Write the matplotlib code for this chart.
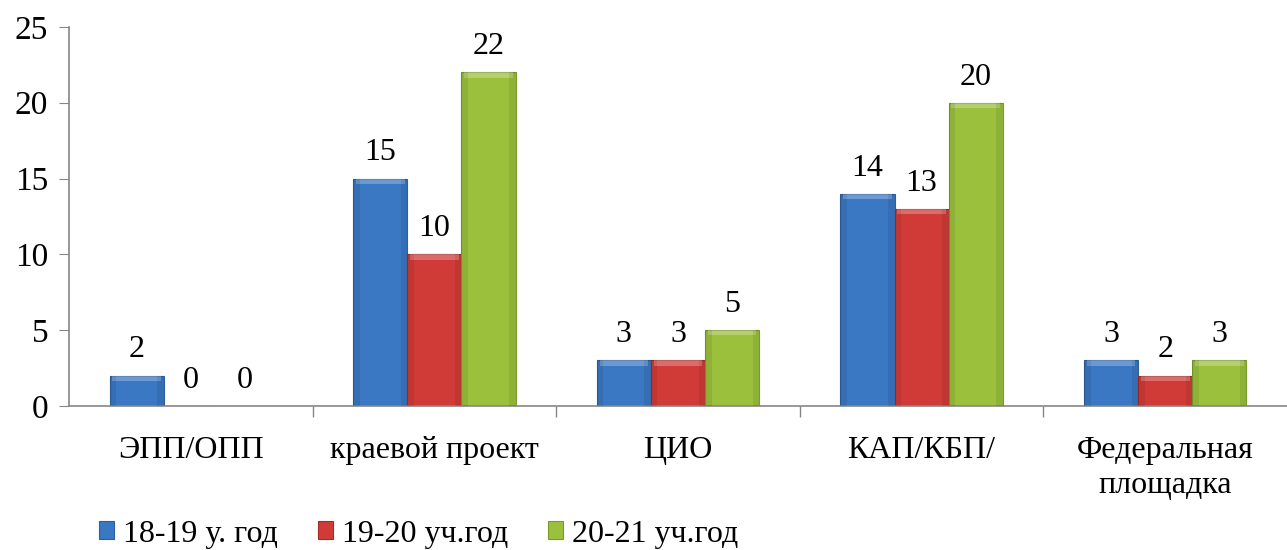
import numpy as np
import matplotlib.pyplot as plt
from matplotlib.ticker import FixedLocator

categories = ["ЭПП/ОПП", "краевой проект", "ЦИО", "КАП/КБП/", "Федеральная\nплощадка"]
series_names = ["18-19 у. год", "19-20 уч.год", "20-21 уч.год"]
v_18_19 = [2, 15, 3, 14, 3]
v_19_20 = [0, 10, 3, 13, 2]
v_20_21 = [0, 22, 5, 20, 3]
colors = ["#3a78c3", "#d13b37", "#9bc13c"]
edge_colors = ["#2c5f9e", "#a52b28", "#7a9a2c"]

plt.rcParams['font.family'] = ['Liberation Serif', 'DejaVu Serif']

fig = plt.figure(figsize=(12.87, 5.5), dpi=100)
ax = fig.add_axes([0.0536, 0.262, 0.9464, 0.689])

x = np.arange(len(categories))
w = 0.222
for i, (vals, c, ec) in enumerate(zip([v_18_19, v_19_20, v_20_21], colors, edge_colors)):
    pos = x + (i - 1) * w
    bars = ax.bar(pos, vals, width=w, color=c, edgecolor=ec, linewidth=0.8,
                  label=series_names[i], zorder=2)
    # light strip at the top and darker sides for a bevel look
    for b, v in zip(bars, vals):
        if v <= 0:
            continue
        ax.bar(b.get_x() + w / 2, 0.35, bottom=v - 0.35, width=w * 0.9,
               color="white", alpha=0.25, linewidth=0, zorder=3)
        ax.bar(b.get_x() + w * 0.06, v, width=w * 0.12, color="black",
               alpha=0.08, linewidth=0, zorder=3)
        ax.bar(b.get_x() + w * 0.94, v, width=w * 0.12, color="black",
               alpha=0.08, linewidth=0, zorder=3)
    for px, v in zip(pos, vals):
        ax.annotate(str(v), (px, v), xytext=(0, 8), textcoords="offset points",
                    ha="center", va="bottom", fontsize=23)

ax.set_xlim(-0.5, len(categories) - 0.5)
ax.set_ylim(0, 25)
ax.set_yticks([0, 5, 10, 15, 20, 25])
ax.tick_params(axis="y", labelsize=24, length=7, color="#868686", pad=8)
ax.set_xticks(x)
ax.set_xticklabels(categories, fontsize=23, linespacing=1.25)
ax.tick_params(axis="x", which="major", length=0, pad=22)
ax.xaxis.set_minor_locator(FixedLocator(np.arange(0.5, len(categories) - 0.5, 1)))
ax.tick_params(axis="x", which="minor", length=8, color="#868686", width=1)

for s in ["top", "right"]:
    ax.spines[s].set_visible(False)
for s in ["left", "bottom"]:
    ax.spines[s].set_color("#868686")
    ax.spines[s].set_linewidth(1.2)

fig.legend(loc="center left", bbox_to_anchor=(0.077, 0.029), ncol=3, frameon=False,
           fontsize=23, handlelength=0.47, handleheight=0.47, handletextpad=0.28,
           columnspacing=1.25, borderaxespad=0, borderpad=0)

fig.savefig("out.png", dpi=100)
